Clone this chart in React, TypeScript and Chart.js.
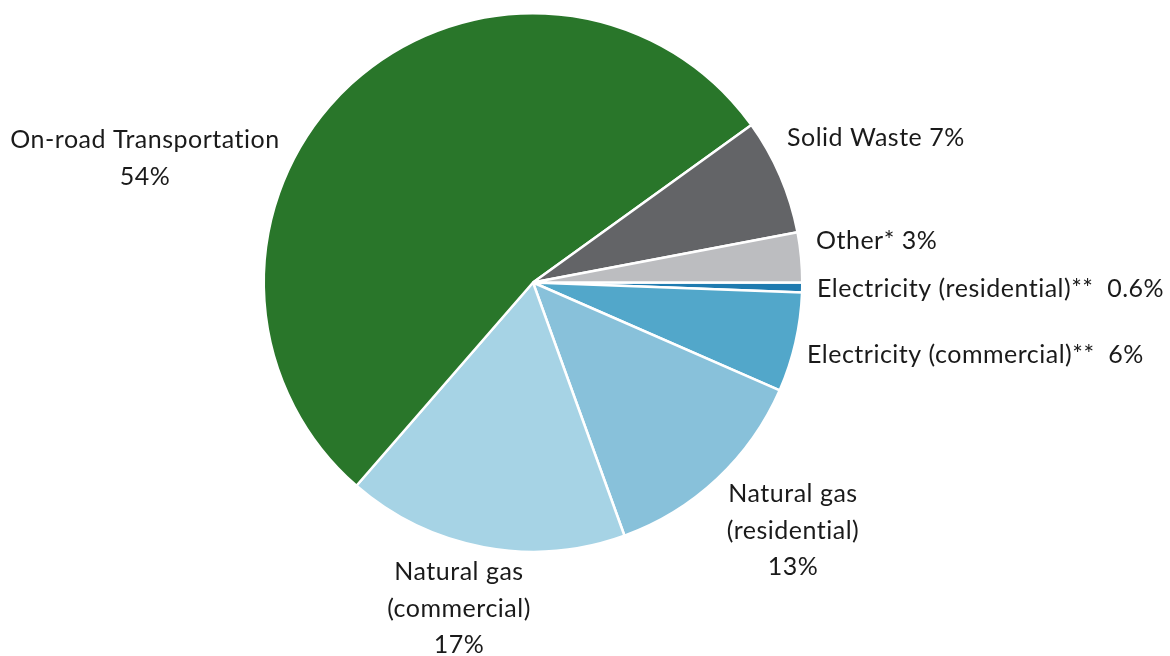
import React, { useEffect, useRef } from "react";
import { Chart, registerables } from "chart.js";

Chart.register(...registerables);

// Slices listed clockwise starting at 3 o'clock
const categories = [
  "Electricity (residential)**",
  "Electricity (commercial)**",
  "Natural gas (residential)",
  "Natural gas (commercial)",
  "On-road Transportation",
  "Solid Waste",
  "Other*",
];
const shares = [0.6, 6, 13, 17, 54, 7, 3];
const shareLabels = ["0.6%", "6%", "13%", "17%", "54%", "7%", "3%"];
const sliceColors = ["#1f7bb0", "#52a7ca", "#88c1da", "#a6d3e5", "#29762a", "#636467", "#bcbdc0"];

// Text lines for each label (derived from the names and shares)
const labelLines: string[][] = [
  [`${categories[0]}  ${shareLabels[0]}`],
  [`${categories[1]}  ${shareLabels[1]}`],
  ["Natural gas", "(residential)", shareLabels[2]],
  ["Natural gas", "(commercial)", shareLabels[3]],
  [categories[4], shareLabels[4]],
  [`${categories[5]} ${shareLabels[5]}`],
  [`${categories[6]} ${shareLabels[6]}`],
];

// Label layout: anchor x, first baseline y, alignment
const labelX = [817, 807, 793, 459, 145, 787, 816];
const labelY = [297, 363, 502, 580, 148, 146, 249];
const labelAlign: CanvasTextAlign[] = ["left", "left", "center", "center", "center", "left", "left"];
const LINE_H = 36.5;
const FONT = "25px Lato";

const labelPlugin = {
  id: "outsideLabels",
  afterDraw(chart: any) {
    const ctx = chart.ctx;
    ctx.save();
    ctx.fillStyle = "#1a1a1a";
    ctx.font = FONT;
    try {
      (ctx as any).letterSpacing = "0.5px";
    } catch (e) {}
    ctx.textBaseline = "alphabetic";
    labelLines.forEach((lines, i) => {
      ctx.textAlign = labelAlign[i];
      lines.forEach((t, j) => {
        ctx.fillText(t, labelX[i], labelY[i] + j * LINE_H);
      });
    });
    ctx.restore();
  },
};

export default function App() {
  const ref = useRef<HTMLCanvasElement | null>(null);
  useEffect(() => {
    if (!ref.current) return;
    const chart = new Chart(ref.current, {
      type: "pie",
      data: {
        labels: categories,
        datasets: [
          {
            data: shares,
            backgroundColor: sliceColors,
            borderColor: "#ffffff",
            borderWidth: 2.5,
          },
        ],
      },
      options: {
        animation: false,
        responsive: true,
        maintainAspectRatio: false,
        rotation: 90,
        layout: { padding: { top: 12, bottom: 103, left: 0, right: 104 } },
        plugins: {
          legend: { display: false },
          tooltip: { enabled: false },
        },
      },
      plugins: [labelPlugin],
    });
    return () => chart.destroy();
  }, []);
  return (
    <div style={{ position: "absolute", left: 0, top: 0, width: 1170, height: 656, background: "#fff" }}>
      <canvas ref={ref} />
    </div>
  );
}
